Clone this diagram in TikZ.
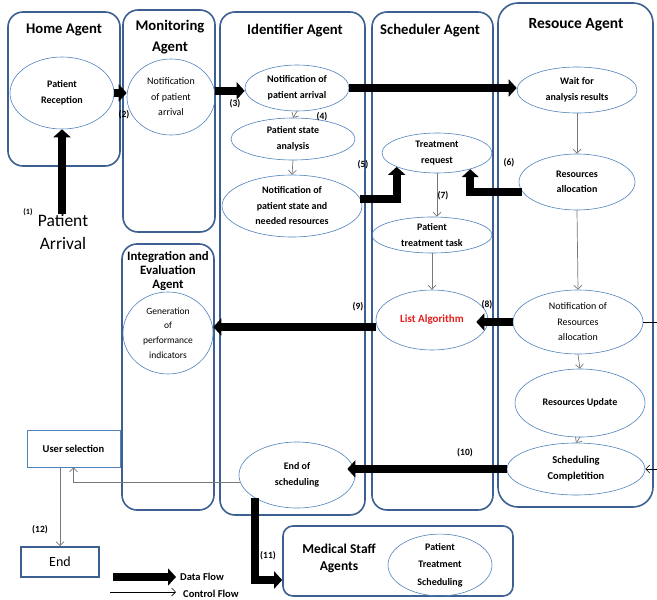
\documentclass[tikz,border=0pt]{standalone}
\usepackage{fontspec}
\setmainfont{Carlito}
\usetikzlibrary{shapes.geometric,arrows.meta,calc}
\definecolor{boxblue}{RGB}{60,96,145}
\definecolor{ellblue}{RGB}{79,129,189}
\definecolor{ctrlgray}{RGB}{120,120,120}
\definecolor{listred}{RGB}{230,30,30}
\begin{document}
\begin{tikzpicture}[x=1pt,y=-1pt,
  agent/.style={draw=boxblue, line width=1.6pt, rounded corners=15pt, inner sep=0pt},
  ell/.style={ellipse, draw=ellblue, line width=0.6pt, inner sep=0pt, align=center, font=\fontsize{10}{15.5}\selectfont\bfseries},
  ellreg/.style={ell, font=\fontsize{10}{15.5}\selectfont},
  agtitle/.style={align=center, inner sep=0pt, font=\fontsize{14.7}{21}\selectfont\bfseries},
  lbl/.style={font=\fontsize{9.5}{10}\selectfont\bfseries, inner sep=0pt},
  data/.style={line width=8pt, -{Triangle[length=8pt,width=17pt]}},
  ctrl/.style={draw=ctrlgray, line width=0.7pt, -{Straight Barb[length=4pt,width=8pt]}},
  ctrlk/.style={draw=black, line width=0.6pt, -{Straight Barb[length=4pt,width=8pt]}},
]
\useasboundingbox (0,0) rectangle (657,600);

% agent boxes
\node[agent, minimum width=112pt, minimum height=154pt] (home) at (64,89) {};
\node[agent, minimum width=92pt, minimum height=222pt] (mon) at (169,121) {};
\node[agent, minimum width=145pt, minimum height=503pt] (ide) at (292.5,263.5) {};
\node[agent, minimum width=121pt, minimum height=498pt] (sch) at (432.5,261) {};
\node[agent, minimum width=155pt, minimum height=504pt, rounded corners=20pt] (res) at (575.5,255) {};
\node[agent, minimum width=92pt, minimum height=266pt] (ie) at (168,377) {};
\node[agent, minimum width=230pt, minimum height=70pt, rounded corners=10pt] (ms) at (398,561) {};

% titles
\node[agtitle] (thome) at (64,30) {Home Agent};
\node[agtitle] (tmon) at (170,37) {Monitoring\\Agent};
\node[agtitle] (tide) at (295,31) {Identifier Agent};
\node[agtitle] (tsch) at (430,31) {Scheduler Agent};
\node[agtitle, font=\fontsize{15.5}{18}\selectfont\bfseries] (tres) at (576,25) {Resouce Agent};
\node[agtitle, font=\fontsize{12.8}{14}\selectfont\bfseries] (tie) at (168,271) {Integration and\\Evaluation\\Agent};
\node[agtitle, font=\fontsize{13.5}{17}\selectfont\bfseries] (tms) at (339,558) {Medical Staff\\Agents};

% ellipses
\node[ell, minimum width=104pt, minimum height=72pt] (pr) at (62,93) {Patient\\Reception};
\node[ellreg, minimum width=88pt, minimum height=76pt] (mn) at (171,97) {Notification\\of patient\\arrival};
\node[ell, minimum width=104pt, minimum height=46pt] (idn) at (297,88) {Notification of\\patient arrival};
\node[ell, minimum width=124pt, minimum height=42pt] (psa) at (293,139) {Patient state\\analysis};
\node[ell, minimum width=140pt, minimum height=62pt] (nps) at (292,206) {Notification of\\patient state and\\needed resources};
\node[ell, minimum width=110pt, minimum height=40pt] (tr) at (437,153) {Treatment\\request};
\node[ell, minimum width=120pt, minimum height=36pt] (ptt) at (432,235) {Patient\\treatment task};
\node[ell, minimum width=112pt, minimum height=60pt, text=listred, font=\fontsize{11}{13}\selectfont\bfseries] (la) at (432,320) {List Algorithm};
\node[ell, minimum width=120pt, minimum height=46pt] (wa) at (577,90) {Wait for\\analysis results};
\node[ell, minimum width=116pt, minimum height=56pt] (ra) at (577,182) {Resources\\allocation};
\node[ellreg, minimum width=130pt, minimum height=64pt] (nra) at (578,322) {Notification of\\Resources\\allocation};
\node[ell, minimum width=130pt, minimum height=68pt] (ru) at (580,403) {Resources Update};
\node[ell, minimum width=138pt, minimum height=52pt, font=\fontsize{10.5}{16}\selectfont\bfseries] (sc) at (576,469) {Scheduling\\Completition};
\node[ell, minimum width=116pt, minimum height=66pt] (es) at (297,475) {End of\\scheduling};
\node[ellreg, minimum width=90pt, minimum height=82pt, font=\fontsize{9.5}{14.7}\selectfont] (gen) at (168,333) {Generation\\of\\performance\\indicators};
\node[ell, minimum width=104pt, minimum height=54pt, font=\fontsize{10}{17.5}\selectfont\bfseries] (pts) at (440,565) {Patient\\Treatment\\Scheduling};

% rectangles
\node[draw=ellblue, line width=0.8pt, minimum width=93pt, minimum height=37pt, inner sep=0pt, font=\fontsize{10.5}{12}\selectfont\bfseries] (us) at (73.5,448.5) {User selection};
\node[draw=boxblue, line width=1.8pt, minimum width=78pt, minimum height=30pt, inner sep=0pt, font=\fontsize{14}{16}\selectfont] (endn) at (60,562) {End};

% patient arrival
\node[inner sep=0pt, align=center, font=\fontsize{17.5}{23}\selectfont] (pa) at (63,232) {Patient\\Arrival};

% data flow
\draw[data] (pa.north -| pr.south) -- (pr.south);
\draw[data] (pr.east) -- (pr.east -| mn.west);
\draw[data] (mn.8) -- (mn.8 -| idn.west);
\draw[data] (idn.east) -- (idn.east -| wa.west);
\draw[data] (nps.6) -| (tr.-161);
\draw[data] (ra.-170) -| (tr.-26);
\coordinate (c8) at ([xshift=-12pt]la.east);
\draw[data] (nra.west) -- (nra.west -| c8);
\coordinate (c9) at ([yshift=-7pt]la.west);
\draw[data] (c9) -- (c9 -| gen.east);
\coordinate (c10) at ([xshift=-8pt]es.east);
\draw[data] (sc.west) -- (sc.west -| c10);
\coordinate (c11) at ([yshift=-19pt]ms.west);
\draw[data] (es.-151) |- (c11);

% control flow
\draw[ctrl] (idn.south) -- (psa.north);
\draw[ctrl] (psa.south) -- (nps.north);
\draw[ctrl] (tr.south) -- (tr.south |- ptt.north);
\draw[ctrl] (ptt.south) -- (la.north);
\draw[ctrl] (wa.south) -- (ra.north);
\draw[ctrl] (ra.south) -- (nra.north);
\draw[ctrl] (nra.south) -- (ru.north);
\draw[ctrl] (ru.south) -- (sc.north);
\draw[ctrlk] (nra.east) -- ++(20,0) |- (sc.east);
\draw[ctrl] (es.-173) -| (us.south);
\draw[ctrl] (us.south -| endn.north) -- (endn.north);

% labels
\node[lbl, font=\fontsize{8}{9}\selectfont\bfseries] (l1) at (28,212) {(1)};
\node[lbl] (l2) at (124,115) {(2)};
\node[lbl] (l3) at (235,104) {(3)};
\node[lbl] (l4) at (322,117) {(4)};
\node[lbl] (l5) at (363,165) {(5)};
\node[lbl] (l6) at (509,163) {(6)};
\node[lbl] (l7) at (443,196) {(7)};
\node[lbl] (l8) at (487,305) {(8)};
\node[lbl] (l9) at (358,307) {(9)};
\node[lbl] (l10) at (465,453) {(10)};
\node[lbl] (l11) at (268,556) {(11)};
\node[lbl] (l12) at (40,530) {(12)};

% legend
\coordinate (dfs) at (113,577);
\coordinate (dfe) at (176,577);
\node[anchor=west, inner sep=0pt, font=\fontsize{10.5}{12}\selectfont\bfseries] (dft) at (180,577) {Data Flow};
\draw[data] (dfs) -- (dfe);
\coordinate (cfs) at (110,592);
\coordinate (cfe) at (176,592);
\node[anchor=west, inner sep=0pt, font=\fontsize{10.5}{12}\selectfont\bfseries] (cft) at (183,594) {Control Flow};
\draw[ctrlk] (cfs) -- (cfe);
\end{tikzpicture}
\end{document}
